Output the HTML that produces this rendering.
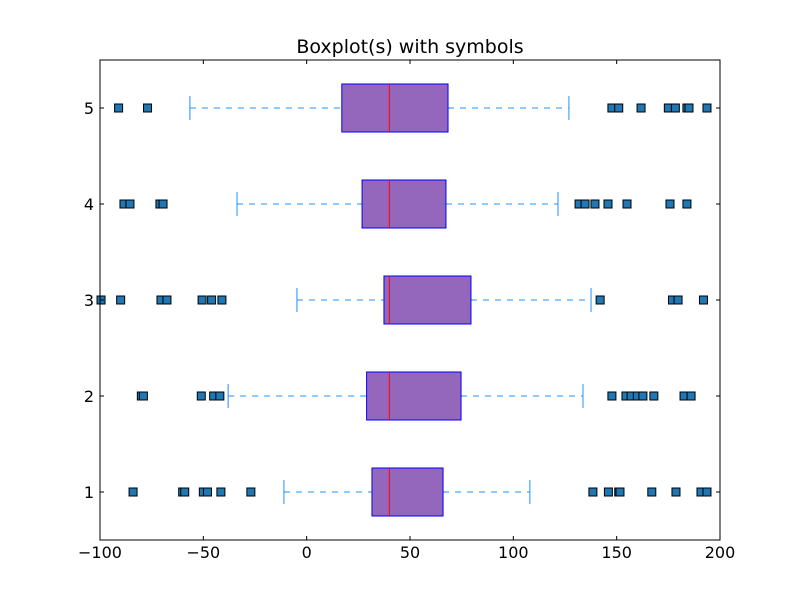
<!DOCTYPE html>
<html><head><meta charset="utf-8"><style>
body{margin:0;background:#fff;}
svg text{font-family:"DejaVu Sans","Liberation Sans",sans-serif;}
</style></head><body>
<svg id="chart" width="800" height="600" xmlns="http://www.w3.org/2000/svg">
<rect width="800" height="600" fill="#fff"/>
<text x="410" y="53" font-size="19" text-anchor="middle">Boxplot(s) with symbols</text>
<g id="plot"></g>
<rect x="100" y="60" width="620" height="480" fill="none" stroke="#000" stroke-width="1"/>
</svg>
<script>
const categories = [1, 2, 3, 4, 5];
const q1 = [31.6, 29, 37.4, 26.8, 17];
const medians = [40, 40, 40, 40, 40];
const q3 = [66, 74.7, 79.5, 67.4, 68.4];
const whiskerLow = [-11, -38, -4.7, -33.7, -56.5];
const whiskerHigh = [108, 133.7, 137.6, 121.6, 126.9];
const outliers1 = [-84, -60, -59, -50, -48, -41.5, -27, 138.5, 146, 151, 151.6, 167, 178.7, 190.8, 193.7];
const outliers2 = [-80, -79, -51, -45, -42, 147.7, 154.5, 157, 160, 162.7, 168, 182.6, 186];
const outliers3 = [-99.5, -90, -70.5, -67.6, -50.6, -46, -41, 142, 177, 179.7, 192];
const outliers4 = [-88.4, -85.5, -71, -69.5, 131.8, 134.7, 139.5, 145.8, 155, 175.8, 184];
const outliers5 = [-91, -77, 147.7, 151, 161.8, 175, 178.4, 184, 185, 193.7];
const outliers = [outliers1, outliers2, outliers3, outliers4, outliers5];
const xTicks = [-100, -50, 0, 50, 100, 150, 200];
const yTicks = [1, 2, 3, 4, 5];

const L=100,R=720,T=60,B=540, xmin=-100,xmax=200, ymin=0.5,ymax=5.5;
const xs=v=>L+(v-xmin)/(xmax-xmin)*(R-L);
const ys=v=>B-(v-ymin)/(ymax-ymin)*(B-T);
const NS='http://www.w3.org/2000/svg';
const svg=document.getElementById('chart');
const plot=document.getElementById('plot');
function mk(tag,attrs,parent){const e=document.createElementNS(NS,tag);for(const k in attrs)e.setAttribute(k,attrs[k]);(parent||plot).appendChild(e);return e;}

categories.forEach((c,i)=>{
  const y=ys(c), h=ys(c-0.25)-ys(c+0.25), cap=(ys(c-0.125)-ys(c+0.125));
  const g=mk('g',{});
  
  
  let w1=mk('line',{x1:xs(whiskerLow[i]),x2:xs(q1[i]),y1:y,y2:y,stroke:'#1e90ff','stroke-width':1,'stroke-dasharray':'6,6'},g);
  
  
  let w2=mk('line',{x1:xs(q3[i]),x2:xs(whiskerHigh[i]),y1:y,y2:y,stroke:'#1e90ff','stroke-width':1,'stroke-dasharray':'6,6'},g);
  
  
  let c1=mk('line',{x1:xs(whiskerLow[i]),x2:xs(whiskerLow[i]),y1:y-cap/2,y2:y+cap/2,stroke:'#1e90ff','stroke-width':1},g);
  
  
  let c2=mk('line',{x1:xs(whiskerHigh[i]),x2:xs(whiskerHigh[i]),y1:y-cap/2,y2:y+cap/2,stroke:'#1e90ff','stroke-width':1},g);
  
  
  let b=mk('rect',{x:xs(q1[i]),y:y-h/2,width:xs(q3[i])-xs(q1[i]),height:h,fill:'#9467bd',stroke:'#0000ff','stroke-width':1},g);
  
  
  let m=mk('line',{x1:xs(medians[i]),x2:xs(medians[i]),y1:y-h/2,y2:y+h/2,stroke:'#ff0000','stroke-width':1},g);
  
  
  outliers[i].forEach(v=>{
    if(v<xmin-1||v>xmax+1)return;
    let o=mk('rect',{x:xs(v)-4,y:y-4,width:8,height:8,fill:'#1f77b4',stroke:'#000','stroke-width':1},g);
    
    
  });
});
xTicks.forEach(t=>{
  const x=xs(t);
  let a=mk('line',{x1:x,x2:x,y1:B,y2:B-4,stroke:'#000'},svg);
  
  
  let a2=mk('line',{x1:x,x2:x,y1:T,y2:T+4,stroke:'#000'},svg);
  
  
  let tx=mk('text',{x:x,y:B+18,'font-size':16,'text-anchor':'middle'},svg);
  tx.textContent=(t<0?'\u2212'+(-t):t);
  
  
});
yTicks.forEach(t=>{
  const y=ys(t);
  let a=mk('line',{x1:L,x2:L+4,y1:y,y2:y,stroke:'#000'},svg);
  
  
  let a2=mk('line',{x1:R,x2:R-4,y1:y,y2:y,stroke:'#000'},svg);
  
  
  let tx=mk('text',{x:L-6,y:y+6,'font-size':16,'text-anchor':'end'},svg);
  tx.textContent=t;
  
  
});
</script>
</body></html>
